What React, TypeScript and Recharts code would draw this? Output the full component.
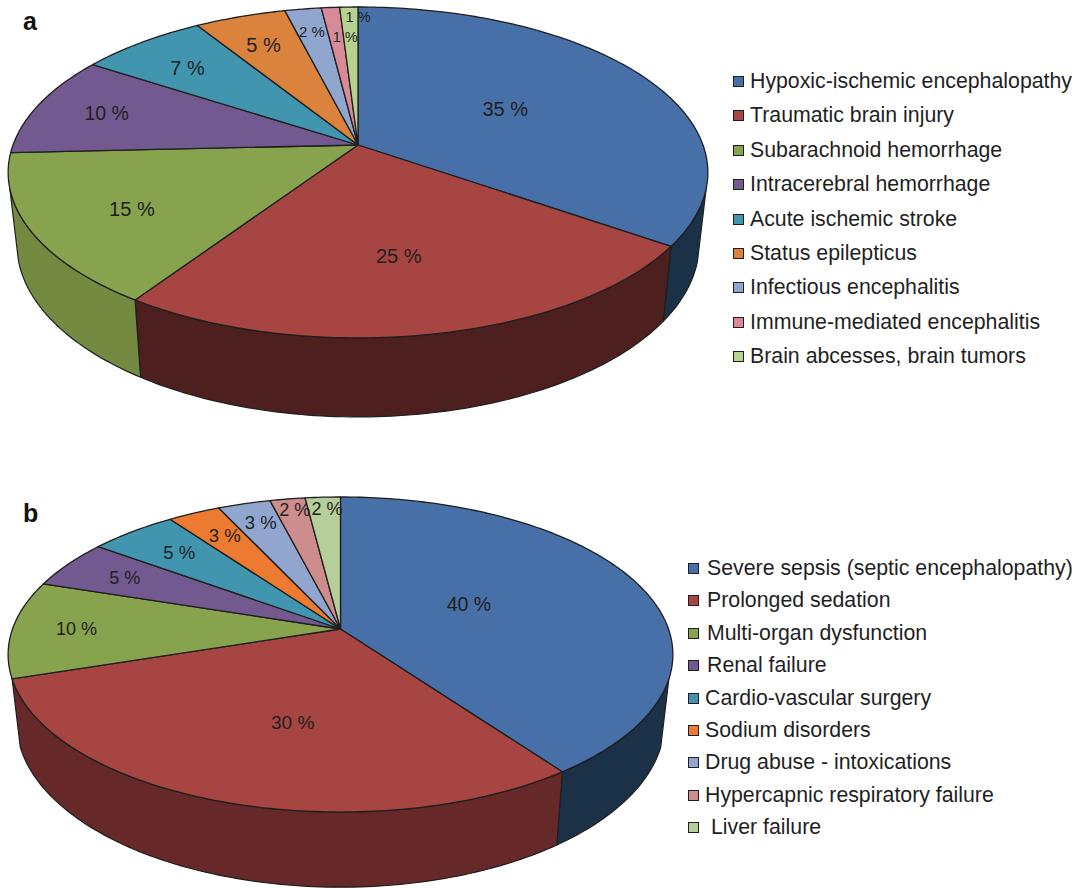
import * as React from "react"
import { PieChart, Pie, Legend } from "recharts"

const FONT = '"Liberation Sans", Arial, sans-serif'
const INK = "#1f1f1f"

// panel a
const causesA = [
  "Hypoxic-ischemic encephalopathy",
  "Traumatic brain injury",
  "Subarachnoid hemorrhage",
  "Intracerebral hemorrhage",
  "Acute ischemic stroke",
  "Status epilepticus",
  "Infectious encephalitis",
  "Immune-mediated encephalitis",
  "Brain abcesses, brain tumors",
]
const sharesA = [35, 25, 15, 10, 7, 5, 2, 1, 1]
const topColorsA = ["#4870a8", "#a64541", "#87a34e", "#725a90", "#4195af", "#db823c", "#90a6cf", "#d88a98", "#b7d28f"]
const wallColorsA = ["#1b3148", "#4e1f1f", "#738a40", "#4a3a60", "#2a6070", "#8f5528", "#5e6c87", "#8d5a63", "#77895d"]

// panel b
const causesB = [
  "Severe sepsis (septic encephalopathy)",
  "Prolonged sedation",
  "Multi-organ dysfunction",
  "Renal failure",
  "Cardio-vascular surgery",
  "Sodium disorders",
  "Drug abuse - intoxications",
  "Hypercapnic respiratory failure",
  "Liver failure",
]
const sharesB = [40, 30, 10, 5, 5, 3, 3, 2, 2]
const topColorsB = ["#4870a8", "#a64541", "#87a34e", "#725a90", "#4195af", "#ed7a31", "#90a6cf", "#cd8d8d", "#b6ce9a"]
const wallColorsB = ["#1b3148", "#67282a", "#738a40", "#4a3a60", "#2a6070", "#9a5020", "#5e6c87", "#855c5c", "#768664"]

// label placement on the disc: distance from the apex (0-1), extra turn in degrees, font size
const labelReachA = [0.5, 0.63, 0.72, 0.78, 0.75, 0.757, 0.816, 0.76, 0.916]
const labelTurnA = [0, 1, -2, 0, -1.2, -0.6, 0, 2.2, 1.8]
const labelSizeA = [20, 20, 20, 19.5, 20, 20, 15, 14.5, 14.5]
const labelReachB = [0.437, 0.569, 0.805, 0.781, 0.76, 0.778, 0.825, 0.902, 0.895]
const labelTurnB = [-4.9, -4.5, 0, 0, 0.3, 0.4, 0.4, 0.6, 0.6]
const labelSizeB = [19.5, 19, 18, 18, 18.5, 18.5, 18.5, 18, 18]

const legendIndentB = [19, 19, 19, 19, 17, 17, 17, 17, 23]

interface Perspective {
  spreadX: number // half width factor of the disc
  spreadY: number // depth factor of the disc
  tilt: number // projective term, makes the far half shorter
  wallDrop: number
  wallScaleX: number
  wallScaleY: number
  rimLimit: number // sweep where the rim comes into view; mirrored on the left
}

const viewA: Perspective = { spreadX: 345, spreadY: 160.9, tilt: -0.166, wallDrop: 70.5, wallScaleX: 0.975, wallScaleY: 1.044, rimLimit: 105 }
const viewB: Perspective = { spreadX: 328, spreadY: 153.4, tilt: -0.162, wallDrop: 66, wallScaleX: 0.975, wallScaleY: 1.05, rimLimit: 108 }

const RADIAN = Math.PI / 180

// sweep is measured clockwise from twelve o'clock
const project = (view: Perspective, sweep: number, reach = 1) => {
  const x = reach * Math.sin(sweep * RADIAN)
  const y = -reach * Math.cos(sweep * RADIAN)
  const w = 1 + view.tilt * y
  return { x: (view.spreadX * x) / w, y: (view.spreadY * y) / w }
}

const sweepsOf = (start: number, end: number) => {
  const steps = Math.max(2, Math.ceil(Math.abs(end - start)))
  return Array.from({ length: steps + 1 }, (_, i) => start + ((end - start) * i) / steps)
}

const renderTop = (view: Perspective) => (props: any) => {
  const { cx, cy, startAngle, endAngle, fill } = props
  const points = sweepsOf(90 - startAngle, 90 - endAngle).map((s) => project(view, s))
  const d = `M${cx},${cy} ` + points.map((p) => `L${cx + p.x},${cy + p.y}`).join(" ") + " Z"
  return <path d={d} fill={fill} stroke={INK} strokeWidth={1.3} strokeLinejoin="round" />
}

const renderWall = (view: Perspective) => (props: any) => {
  const { cx, cy, startAngle, endAngle, payload } = props
  // only the front of the rim shows
  const from = Math.max(90 - startAngle, view.rimLimit)
  const to = Math.min(90 - endAngle, 360 - view.rimLimit)
  if (to <= from) return <g />
  const sweeps = sweepsOf(from, to)
  const upper = sweeps.map((s) => project(view, s)).map((p) => `${cx + p.x},${cy + p.y}`)
  const lower = sweeps
    .slice()
    .reverse()
    .map((s) => project(view, s))
    .map((p) => `${cx + p.x * view.wallScaleX},${cy + view.wallDrop + p.y * view.wallScaleY}`)
  const d = "M" + upper.join(" L") + " L" + lower.join(" L") + " Z"
  return <path d={d} fill={payload?.wall ?? props.wall} stroke={INK} strokeWidth={1.2} strokeLinejoin="round" />
}

const renderLabel = (view: Perspective, reach: number[], turn: number[], size: number[]) => (props: any) => {
  const { cx, cy, midAngle, index, value } = props
  const p = project(view, 90 - midAngle + turn[index], reach[index])
  return (
    <text
      x={cx + p.x}
      y={cy + p.y}
      textAnchor="middle"
      dominantBaseline="central"
      fontFamily={FONT}
      fontSize={size[index]}
      fill={INK}
    >
      {`${value} %`}
    </text>
  )
}

const renderLegend = (pitch: number, indent: (i: number) => number, fontSize: number) => (props: any) => {
  // both pies of a panel report their slices, keep one row per cause
  const rows = (props.payload ?? []).filter(
    (entry: any, i: number, all: any[]) => all.findIndex((other) => other.value === entry.value) === i
  )
  return (
    <div style={{ position: "relative", fontFamily: FONT, color: INK }}>
      {rows.map((entry: any, i: number) => (
        <div key={entry.value} style={{ position: "absolute", left: 0, top: i * pitch, height: 24, whiteSpace: "nowrap" }}>
          <span
            style={{
              position: "absolute",
              left: 0,
              top: 7,
              width: 9,
              height: 9,
              background: entry.color,
              border: `1.2px solid ${INK}`,
            }}
          />
          <span style={{ position: "absolute", left: indent(i), top: 0, fontSize, lineHeight: "24px" }}>{entry.value}</span>
        </div>
      ))}
    </div>
  )
}

const PanelLetter = ({ letter, top }: { letter: string; top: number }) => (
  <div style={{ position: "absolute", left: 23, top, fontFamily: FONT, fontWeight: 700, fontSize: 25, lineHeight: "28px", color: "#111" }}>
    {letter}
  </div>
)

const tableA = causesA.map((name, i) => ({ name, value: sharesA[i], fill: topColorsA[i], wall: wallColorsA[i] }))
const tableB = causesB.map((name, i) => ({ name, value: sharesB[i], fill: topColorsB[i], wall: wallColorsB[i] }))

export default function App() {
  return (
    <div style={{ position: "absolute", left: 0, top: 0, width: 1083, height: 888, background: "#fff", overflow: "hidden" }}>
      <div style={{ position: "absolute", left: 0, top: 0 }}>
        <PieChart width={1083} height={440} margin={{ top: 0, right: 0, bottom: 0, left: 0 }}>
          <Pie
            data={tableA}
            dataKey="value"
            nameKey="name"
            cx={358}
            cy={145}
            outerRadius={120}
            startAngle={90}
            endAngle={-270}
            legendType="none"
            label={false}
            shape={renderWall(viewA)}
            isAnimationActive={false}
          />
          <Pie
            data={tableA}
            dataKey="value"
            nameKey="name"
            cx={358}
            cy={145}
            outerRadius={120}
            startAngle={90}
            endAngle={-270}
            labelLine={false}
            label={renderLabel(viewA, labelReachA, labelTurnA, labelSizeA)}
            shape={renderTop(viewA)}
            isAnimationActive={false}
          />
          <Legend
            layout="vertical"
            align="right"
            verticalAlign="top"
            itemSorter={null}
            wrapperStyle={{ left: 733, top: 69, width: 350 }}
            content={renderLegend(34.4, () => 17, 21.3)}
          />
        </PieChart>
      </div>
      <div style={{ position: "absolute", left: 0, top: 440 }}>
        <PieChart width={1083} height={448} margin={{ top: 0, right: 0, bottom: 0, left: 0 }}>
          <Pie
            data={tableB}
            dataKey="value"
            nameKey="name"
            cx={340.5}
            cy={189}
            outerRadius={120}
            startAngle={90}
            endAngle={-270}
            legendType="none"
            label={false}
            shape={renderWall(viewB)}
            isAnimationActive={false}
          />
          <Pie
            data={tableB}
            dataKey="value"
            nameKey="name"
            cx={340.5}
            cy={189}
            outerRadius={120}
            startAngle={90}
            endAngle={-270}
            labelLine={false}
            label={renderLabel(viewB, labelReachB, labelTurnB, labelSizeB)}
            shape={renderTop(viewB)}
            isAnimationActive={false}
          />
          <Legend
            layout="vertical"
            align="right"
            verticalAlign="top"
            itemSorter={null}
            wrapperStyle={{ left: 688, top: 116, width: 395 }}
            content={renderLegend(32.4, (i) => legendIndentB[i], 21.3)}
          />
        </PieChart>
      </div>
      <PanelLetter letter="a" top={7} />
      <PanelLetter letter="b" top={499} />
    </div>
  )
}
